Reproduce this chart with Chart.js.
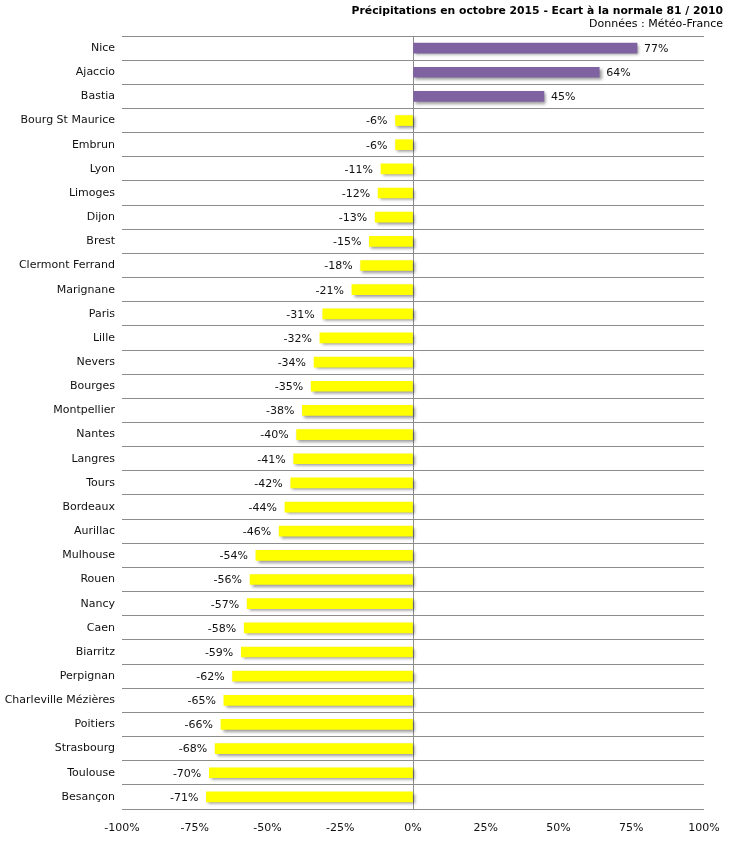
<!DOCTYPE html>
<html><head><meta charset="utf-8">
<script src="https://cdn.jsdelivr.net/npm/chart.js@4"></script>
<style>html,body{margin:0;padding:0;background:#fff;overflow:hidden}canvas{display:block}</style>
</head><body><canvas id="c" width="729" height="843"></canvas>
<script>
const cities = ["Nice","Ajaccio","Bastia","Bourg St Maurice","Embrun","Lyon","Limoges","Dijon","Brest","Clermont Ferrand","Marignane","Paris","Lille","Nevers","Bourges","Montpellier","Nantes","Langres","Tours","Bordeaux","Aurillac","Mulhouse","Rouen","Nancy","Caen","Biarritz","Perpignan","Charleville Mézières","Poitiers","Strasbourg","Toulouse","Besançon"];
const ecart = [77,64,45,-6,-6,-11,-12,-13,-15,-18,-21,-31,-32,-34,-35,-38,-40,-41,-42,-44,-46,-54,-56,-57,-58,-59,-62,-65,-66,-68,-70,-71];
const xTicks = [-100,-75,-50,-25,0,25,50,75,100];
const titleText = "Précipitations en octobre 2015 - Ecart à la normale 81 / 2010";
const subtitleText = "Données : Météo-France";

const FONT = "'DejaVu Sans', Verdana, sans-serif";

const shadowPlugin = {
  id: 'shadow',
  beforeDatasetDraw(chart){ const c=chart.ctx; c.save(); c.shadowColor='rgba(0,0,0,0.4)'; c.shadowBlur=3; c.shadowOffsetX=2; c.shadowOffsetY=2; },
  afterDatasetDraw(chart){ chart.ctx.restore(); }
};
const labelPlugin = {
  id: 'vlabels',
  afterDatasetsDraw(chart){
    const c=chart.ctx; const meta=chart.getDatasetMeta(0);
    c.save(); c.font='11px '+FONT; c.fillStyle='#111'; c.textBaseline='middle';
    meta.data.forEach((el,i)=>{
      const v=ecart[i];
      if(v>=0){ c.textAlign='left'; c.fillText(v+'%', el.x+7, el.y+1); }
      else { c.textAlign='right'; c.fillText(v+'%', el.x-8, el.y+1); }
    });
    c.restore();
  }
};
const titlePlugin = {
  id: 'ttl',
  afterDraw(chart){
    const c=chart.ctx; c.save(); c.fillStyle='#000'; c.textAlign='right'; c.textBaseline='middle';
    c.font='bold 10.8px '+FONT; c.fillText(titleText, 723, 11);
    c.font='11px '+FONT; c.fillText(subtitleText, 723, 24);
    c.restore();
  }
};

new Chart(document.getElementById('c'), {
  type:'bar',
  data:{ labels:cities, datasets:[{ data:ecart,
    backgroundColor: ecart.map(v=> v>=0 ? '#7F63A1' : '#FFFF00'),
    barThickness:10, borderWidth:0 }]},
  options:{
    indexAxis:'y', responsive:false, animation:false,
    devicePixelRatio:1,
    layout:{ padding:{ left:0, right:25, top:36, bottom:0 } },
    plugins:{ legend:{display:false}, tooltip:{enabled:false}, title:{display:false} },
    scales:{
      x:{ min:-100, max:100,
        afterBuildTicks(s){ s.ticks = xTicks.map(v=>({value:v})); },
        afterFit(s){ s.height = 34; s.paddingRight = 0; s.paddingLeft = 0; },
        ticks:{ callback:v=>v+'%', font:{family:FONT,size:11}, color:'#111', padding:13, maxRotation:0 },
        grid:{ drawTicks:false, color:ctx=> ctx.tick && ctx.tick.value===0 ? '#8c8c8c' : 'rgba(0,0,0,0)' },
        border:{ display:false }
      },
      y:{
        afterFit(s){ s.width = 122; },
        ticks:{ font:{family:FONT,size:11}, color:'#111', padding:7, autoSkip:false },
        grid:{ drawTicks:false, color:'#8c8c8c', offset:true },
        border:{ display:false }
      }
    }
  },
  plugins:[shadowPlugin,labelPlugin,titlePlugin]
});
</script></body></html>
